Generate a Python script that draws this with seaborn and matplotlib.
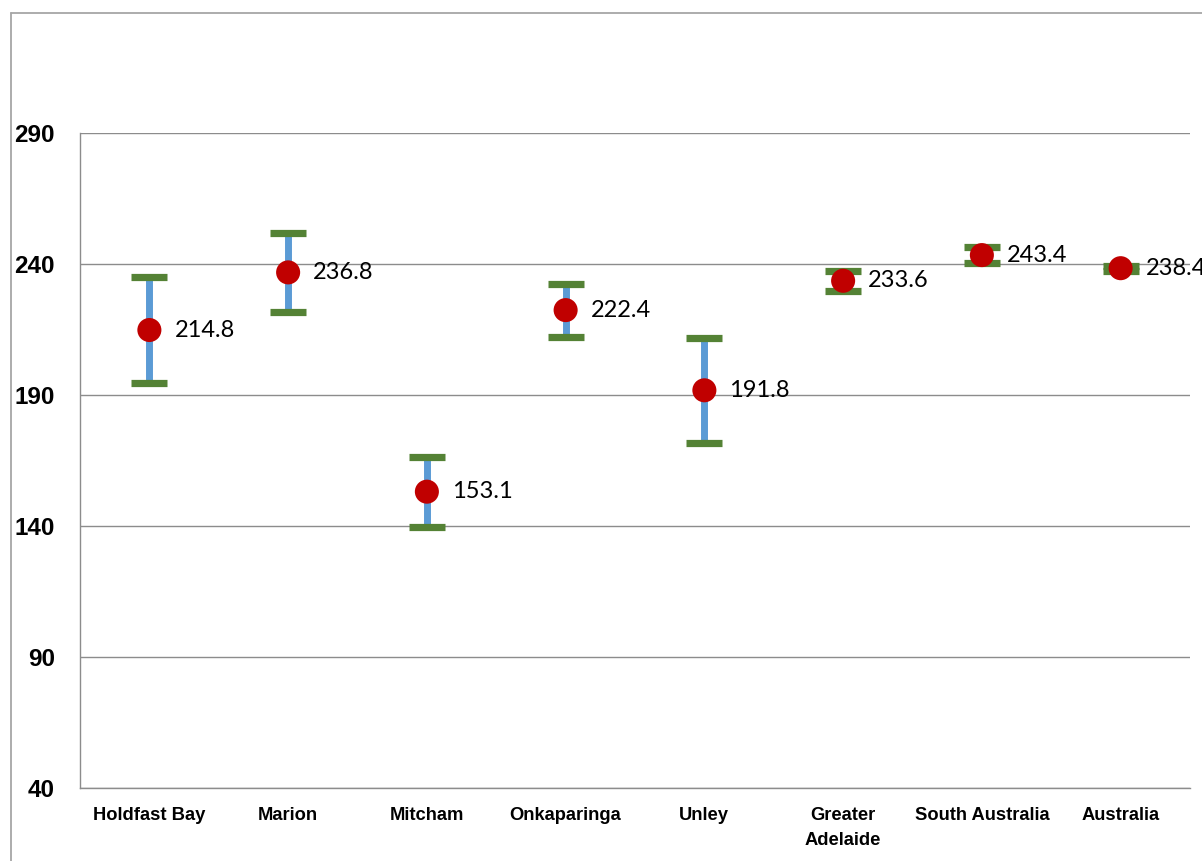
import matplotlib
matplotlib.use("Agg")
import matplotlib.pyplot as plt
import seaborn as sns
import pandas as pd
import numpy as np
from matplotlib.lines import Line2D

categories = ["Holdfast Bay", "Marion", "Mitcham", "Onkaparinga", "Unley",
              "Greater\nAdelaide", "South Australia", "Australia"]
values = [214.8, 236.8, 153.1, 222.4, 191.8, 233.6, 243.4, 238.4]
errors = [20.4, 15.0, 13.3, 10.1, 20.1, 3.8, 3.2, 1.0]
yticks = [40, 90, 140, 190, 240, 290]

sns.set_theme(style="white")
plt.rcParams['font.family'] = ['Lato', 'DejaVu Sans']

df = pd.DataFrame({"cat": categories, "val": values, "err": errors})
df["pos"] = np.arange(len(df))

W, H = 1202, 861
fig = plt.figure(figsize=(W / 100, H / 100), dpi=100)
ax = fig.add_axes([80 / W, 1 - 788 / H, (1190 - 80) / W, (788 - 133) / H])

grid_c = "#8C8C8C"
for y in yticks:
    ax.axhline(y, color=grid_c, lw=1.0, zorder=0)

# error bars: blue stem
ax.vlines(df["pos"], df["val"] - df["err"], df["val"] + df["err"],
          color="#5B9BD5", lw=5.0, zorder=2)
# green caps
for lims in (df["val"] - df["err"], df["val"] + df["err"]):
    ax.hlines(lims, df["pos"] - 0.13, df["pos"] + 0.13, color="#548235",
              lw=5.2, zorder=3)

sns.scatterplot(data=df, x="pos", y="val", ax=ax, s=300, color="#C00000",
                edgecolor="none", zorder=4, legend=False)

for p, v in zip(df["pos"], df["val"]):
    ax.annotate(f"{v:.1f}", (p, v), xytext=(18, 0), textcoords="offset points",
                ha="left", va="center", fontsize=17, color="black",
                annotation_clip=False, zorder=5)

bold_font = ['Liberation Sans', 'DejaVu Sans']
ax.set_xlim(-0.5, len(categories) - 0.5)
ax.set_ylim(40, 290)
ax.set_yticks(yticks)
ax.set_yticklabels([str(t) for t in yticks], fontsize=17.5, fontweight="bold",
                   family=bold_font, color="black")
ax.set_xticks(df["pos"])
ax.set_xticklabels(categories, fontsize=13.2, fontweight="bold", linespacing=1.6,
                   family=bold_font, va="top", color="black")
ax.set_xticks(np.arange(len(categories) + 1) - 0.5, minor=True)
ax.tick_params(axis="x", which="major", length=0, pad=14)
ax.tick_params(axis="x", which="minor", length=6, color=grid_c, width=1, direction="out")
ax.tick_params(axis="y", which="major", length=8, color=grid_c, width=1, direction="out", pad=10)
ax.set_xlabel("")
ax.set_ylabel("")
for s in ["top", "right"]:
    ax.spines[s].set_visible(False)
for s in ["left", "bottom"]:
    ax.spines[s].set_color(grid_c)
    ax.spines[s].set_linewidth(1.0)

# outer chart border
border_c = "#A6A6A6"
fig.add_artist(Line2D([11 / W, 11 / W], [0, 1 - 13 / H], transform=fig.transFigure,
                      color=border_c, lw=1.3))
fig.add_artist(Line2D([11 / W, 1], [1 - 13 / H, 1 - 13 / H], transform=fig.transFigure,
                      color=border_c, lw=1.3))

fig.savefig("out.png", dpi=100)
